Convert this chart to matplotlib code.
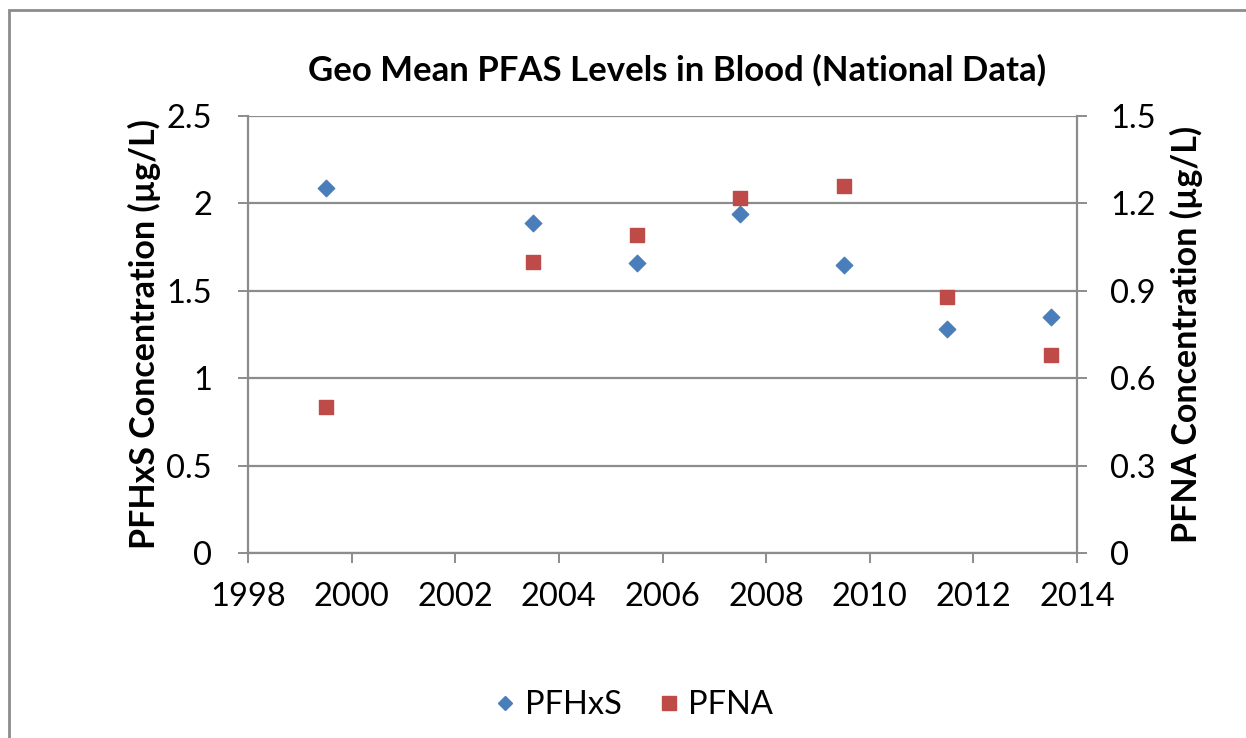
import matplotlib
matplotlib.use("Agg")
import matplotlib.pyplot as plt
from matplotlib.patches import Rectangle
from matplotlib.lines import Line2D

plt.rcParams["font.family"] = ["Lato", "DejaVu Sans"]

years = [1999.5, 2003.5, 2005.5, 2007.5, 2009.5, 2011.5, 2013.5]
pfhxs = [2.09, 1.89, 1.66, 1.94, 1.65, 1.28, 1.35]
pfna = [0.50, 1.00, 1.09, 1.22, 1.26, 0.88, 0.68]

left_ticks = [0, 0.5, 1, 1.5, 2, 2.5]
left_labels = ["0", "0.5", "1", "1.5", "2", "2.5"]
right_ticks = [0, 0.3, 0.6, 0.9, 1.2, 1.5]
right_labels = ["0", "0.3", "0.6", "0.9", "1.2", "1.5"]
x_ticks = [1998, 2000, 2002, 2004, 2006, 2008, 2010, 2012, 2014]

BLUE = "#4a7ebb"
RED = "#be4b48"
AXC = "#8c8c8c"
TICK_FS = 23.5

fig = plt.figure(figsize=(12.46, 7.38), dpi=100)
# chart-area border (only top and left edges fall inside the picture)
fig.patches.append(Rectangle((9 / 1246, -0.1), 1.2, 1 - 10 / 738 + 0.1,
                             transform=fig.transFigure, fill=False,
                             edgecolor="#8c8c8c", lw=2.0))

ax = fig.add_axes([248 / 1246, 1 - 553 / 738, (1077 - 248) / 1246, (553 - 116) / 738])
ax2 = ax.twinx()

ax.scatter(years, pfhxs, marker="D", s=70, color=BLUE, zorder=3)
ax2.scatter(years, pfna, marker="s", s=105, color=RED, zorder=3)

ax.set_xlim(1998, 2014)
ax.set_ylim(0, 2.5)
ax2.set_ylim(0, 1.5)
ax.set_xticks(x_ticks)
ax.set_xticklabels([str(t) for t in x_ticks])
ax.set_yticks(left_ticks)
ax.set_yticklabels(left_labels)
ax2.set_yticks(right_ticks)
ax2.set_yticklabels(right_labels)

ax.grid(axis="y", color=AXC, lw=1.6)
ax.set_axisbelow(True)
for a in (ax, ax2):
    for s in a.spines.values():
        s.set_visible(False)
ax.spines["left"].set_visible(True)
ax.spines["bottom"].set_visible(True)
ax2.spines["right"].set_visible(True)
for s in (ax.spines["left"], ax.spines["bottom"], ax2.spines["right"]):
    s.set_color(AXC)
    s.set_linewidth(1.6)

ax.tick_params(axis="y", direction="out", length=7, width=1.4,
               color=AXC, labelsize=TICK_FS, pad=19)
ax2.tick_params(axis="y", direction="out", length=7, width=1.4,
                color=AXC, labelsize=TICK_FS, pad=17)
ax.tick_params(axis="x", direction="out", length=7, width=1.4,
               color=AXC, labelsize=TICK_FS, pad=14)

ax.set_ylabel("PFHxS Concentration (µg/L)", fontsize=24.5, fontweight="bold")
ax2.set_ylabel("PFNA Concentration (µg/L)", fontsize=24.5, fontweight="bold")
ax.yaxis.set_label_coords((161 - 248) / 829, 0.5)
ax2.yaxis.set_label_coords((1170 - 248) / 829, 0.5)

fig.text(677 / 1246, 1 - 70 / 738, "Geo Mean PFAS Levels in Blood (National Data)",
         fontsize=25, fontweight="bold", ha="center", va="center")

handles = [
    Line2D([], [], marker="D", ls="none", color=BLUE, markersize=7.5),
    Line2D([], [], marker="s", ls="none", color=RED, markersize=9.5),
]
fig.legend(handles, ["PFHxS", "PFNA"], loc="center", bbox_to_anchor=(631 / 1246, 1 - 705 / 738),
           ncol=2, frameon=False, fontsize=TICK_FS, handletextpad=0.1,
           columnspacing=0.95, handlelength=1.0)

fig.savefig("out.png", dpi=100)
